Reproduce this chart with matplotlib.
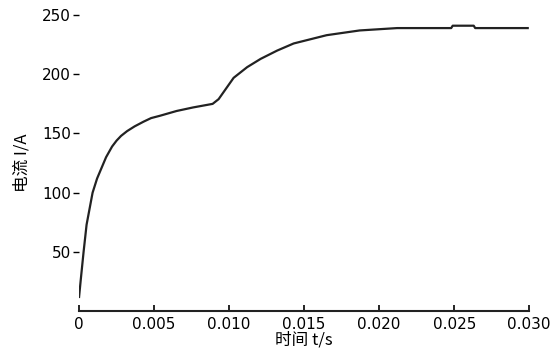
import matplotlib
matplotlib.use('Agg')
import matplotlib.pyplot as plt

plt.rcParams['font.family'] = ['DejaVu Sans', 'Noto Sans CJK SC']

# values
time_s = [0.0000, 0.0001, 0.0003, 0.0005, 0.0009, 0.0012, 0.0015, 0.0018,
          0.0022, 0.0025, 0.0028, 0.0032, 0.0037, 0.0043, 0.0048, 0.0054,
          0.0065, 0.0076, 0.0089, 0.0093, 0.0098, 0.0103, 0.0112, 0.0121,
          0.0132, 0.0143, 0.0165, 0.0187, 0.0212, 0.0248, 0.0249, 0.0263,
          0.0264, 0.0299]
current_a = [12, 25, 50, 73, 100, 112, 121, 130,
             139, 144, 148, 152, 156, 160, 163, 165,
             169, 172, 175, 179, 188, 197, 206, 213,
             220, 226, 233, 237, 239, 239, 241, 241,
             239, 239]

xticks = [0, 0.005, 0.010, 0.015, 0.020, 0.025, 0.030]
xtick_labels = ['0', '0.005', '0.010', '0.015', '0.020', '0.025', '0.030']
yticks = [50, 100, 150, 200, 250]

fig = plt.figure(figsize=(5.53, 3.5), dpi=100)
ax = fig.add_axes([0.143, 0.111, 0.814, 0.846])

ax.plot(time_s, current_a, color='#222222', lw=1.6)

ax.set_xlim(0, 0.030)
ax.set_ylim(0, 250)
ax.set_xticks(xticks)
ax.set_xticklabels(xtick_labels)
ax.set_yticks(yticks)

for s in ['top', 'right', 'left']:
    ax.spines[s].set_visible(False)
ax.spines['bottom'].set_linewidth(1.5)
ax.spines['bottom'].set_color('#222222')

ax.tick_params(axis='x', direction='in', length=4, width=1.2, labelsize=11, pad=4)
ax.tick_params(axis='y', direction='out', length=4, width=1.0, labelsize=11, pad=2)

ax.set_ylabel('电流 I/A', family=['Noto Sans CJK SC', 'DejaVu Sans'], fontsize=12, labelpad=8)
ax.set_xlabel('时间 t/s', family=['Noto Sans CJK SC', 'DejaVu Sans'], fontsize=12, labelpad=0)

fig.savefig('out.png', dpi=100)
